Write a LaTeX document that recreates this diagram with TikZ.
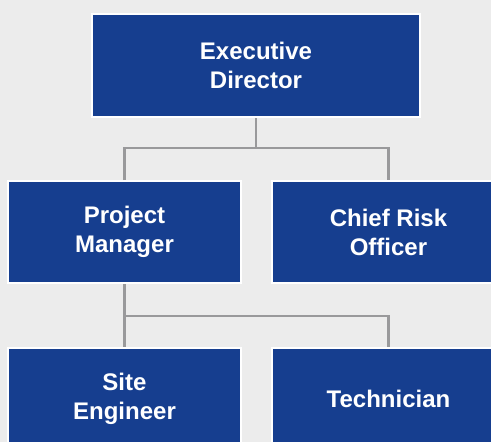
\documentclass[tikz,border=0pt]{standalone}
\usepackage{fontspec}
\setmainfont{Liberation Sans}
\definecolor{orgblue}{RGB}{22,62,143}
\definecolor{orggray}{RGB}{153,153,155}
\definecolor{orgback}{RGB}{236,236,236}

\begin{document}
\begin{tikzpicture}[x=1pt, y=-1pt,
    role/.style={rectangle, draw=white, line width=2pt, fill=orgblue, text=white,
        align=center, font=\bfseries\fontsize{24}{29}\selectfont},
    widebox/.style={role, minimum width=328pt, minimum height=103pt},
    unitbox/.style={role, minimum width=233pt, minimum height=102pt},
    link/.style={draw=orggray, line width=2.5pt}]
    \useasboundingbox (0,0) rectangle (491,442);
    \clip (0,0) rectangle (491,442);
    \fill[orgback] (0,0) rectangle (491,442);
    \node[widebox] (ED) at (256,65.5) {Executive\\Director};
    \node[unitbox] (PM) at (124.5,232) {Project\\Manager};
    \node[unitbox] (CRO) at (388.5,232) {Chief Risk\\Officer};
    \node[unitbox] (SE) at (124.5,398.5) {Site\\Engineer};
    \node[unitbox] (TECH) at (388.5,398.5) {Technician};
    \coordinate (F1) at (256,148);
    \coordinate (F2) at (124.5,316);
    \draw[link] (ED.south) -- (F1);
    \draw[link] (PM.north) |- (F1) -| (CRO.north);
    \draw[link] (PM.south) -- (SE.north);
    \draw[link] (F2) -| (TECH.north);
\end{tikzpicture}
\end{document}
